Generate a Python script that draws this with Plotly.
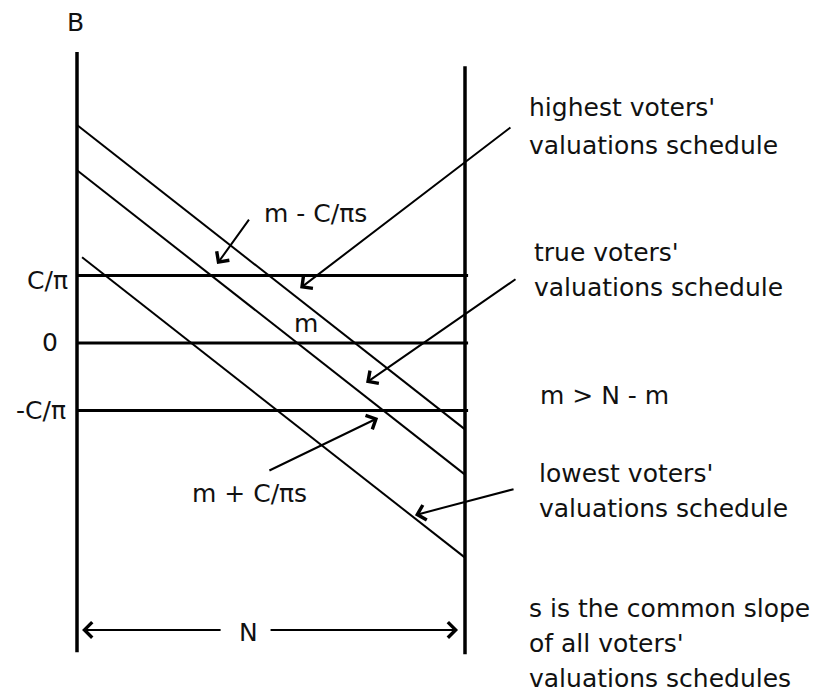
import plotly.graph_objects as go

# ---------------- data (diagram units: x in voters 0..N, y in C/pi units) ----------------
N_VOTERS = 10.0
schedule_names = ["highest voters' valuations schedule",
                  "true voters' valuations schedule",
                  "lowest voters' valuations schedule"]
schedule_x_start = [0.0, 0.0, 0.13]
schedule_y_start = [3.23, 2.56, 1.27]
schedule_y_end = [-1.28, -1.95, -3.18]

level_labels = ["C/π", "0", "-C/π"]
level_values = [1.0, 0.0, -1.0]
level_label_x = [-0.18, -0.44, -0.23]
level_label_base = [0.79, -0.13, -1.14]

left_wall_y = [4.31, -4.58]
right_wall_y = [4.10, -4.61]

# arrows: (tail_x, tail_y, head_x, head_y)
arrow_tail_x = [4.46, 11.21, 11.34, 4.92, 11.29, 3.74, 4.95]
arrow_tail_y = [1.85, 3.21, 0.96, -1.90, -2.16, -4.25, -4.25]
arrow_head_x = [3.61, 5.75, 7.45, 7.76, 8.71, 0.13, 9.82]
arrow_head_y = [1.17, 0.81, -0.59, -1.11, -2.55, -4.25, -4.25]

# text labels: text, x (left edge), baseline y
text_lines = ["highest voters'", "valuations schedule",
              "true voters'", "valuations schedule",
              "m > N - m",
              "lowest voters'", "valuations schedule",
              "s is the common slope", "of all voters'", "valuations schedules",
              "m - C/πs", "m", "m + C/πs"]
text_x = [11.60, 11.60, 11.73, 11.73, 11.88, 11.86, 11.86, 11.60, 11.60, 11.60, 4.77, 5.54, 2.91]
text_base = [3.35, 2.79, 1.20, 0.68, -0.92, -2.07, -2.59, -4.07, -4.59, -5.11, 1.78, 0.15, -2.37]

axis_title_B = "B"
B_pos = (-0.05, 4.61)
N_label = "N"
N_pos = (4.43, -4.43)

# ---------------- layout geometry ----------------
PAGE_MARGIN = 8  # default body margin of the html page
W, H = 825 - PAGE_MARGIN, 694 - PAGE_MARGIN
X0, SX = 77.0 - PAGE_MARGIN, 38.8
Y0, SY = 343.0 - PAGE_MARGIN, 67.5
FONT = dict(family="DejaVu Sans", size=25, color="#111111")
BASE_SHIFT = -7

fig = go.Figure()

def line(xs, ys, w):
    fig.add_trace(go.Scatter(x=xs, y=ys, mode="lines",
                             line=dict(color="black", width=w),
                             hoverinfo="skip", showlegend=False))

# walls
line([0, 0], left_wall_y, 3.5)
line([N_VOTERS, N_VOTERS], right_wall_y, 3.5)
# levels
for v in level_values:
    line([0, N_VOTERS + 0.08], [v, v], 3)
# schedules
for xs, ys, ye in zip(schedule_x_start, schedule_y_start, schedule_y_end):
    line([xs, N_VOTERS], [ys, ye], 2)

ann = []
for tx, ty, hx, hy in zip(arrow_tail_x, arrow_tail_y, arrow_head_x, arrow_head_y):
    ann.append(dict(x=hx, y=hy, ax=tx, ay=ty, xref="x", yref="y", axref="x", ayref="y",
                    text="", showarrow=True, arrowhead=4, arrowsize=1.5, arrowwidth=2,
                    arrowcolor="black", standoff=0, startstandoff=0))

def label(t, x, base, xanchor="left"):
    ann.append(dict(x=x, y=base, xref="x", yref="y", text=t, showarrow=False,
                    xanchor=xanchor, yanchor="bottom", yshift=BASE_SHIFT, font=FONT))

for t, x, b in zip(text_lines, text_x, text_base):
    label(t, x, b)
for t, x, b in zip(level_labels, level_label_x, level_label_base):
    label(t, x, b, "right")
label(axis_title_B, B_pos[0], B_pos[1], "center")
label(N_label, N_pos[0], N_pos[1], "center")

fig.update_layout(
    width=W, height=H, margin=dict(l=0, r=0, t=0, b=0),
    paper_bgcolor="white", plot_bgcolor="white",
    xaxis=dict(range=[-X0 / SX, (W - X0) / SX], visible=False, fixedrange=True),
    yaxis=dict(range=[(Y0 - H) / SY, Y0 / SY], visible=False, fixedrange=True),
    annotations=ann,
)

fig.write_html("out.html")
